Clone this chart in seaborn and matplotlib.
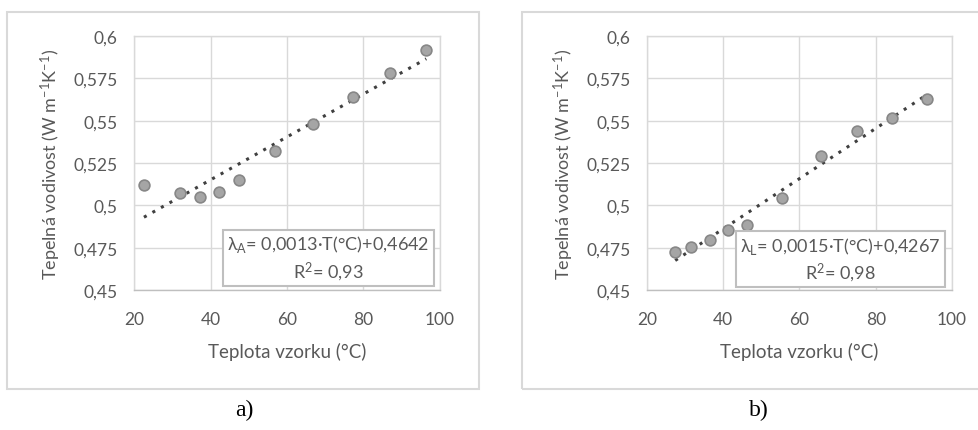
import numpy as np
import pandas as pd
import matplotlib
matplotlib.use("Agg")
import matplotlib.pyplot as plt
import seaborn as sns
from matplotlib.patches import Rectangle

# data
temp_a = [22.6, 32.1, 37.2, 42.2, 47.5, 56.9, 66.9, 77.3, 87.0, 96.4]
lam_a = [0.512, 0.507, 0.505, 0.508, 0.515, 0.532, 0.548, 0.564, 0.578, 0.592]
temp_l = [27.4, 31.6, 36.4, 41.2, 46.1, 55.5, 65.6, 75.0, 84.3, 93.5]
lam_l = [0.4727, 0.4753, 0.4798, 0.4853, 0.4883, 0.5046, 0.529, 0.5437, 0.5518, 0.563]

eq_a = "λ$_\\mathregular{A}$= 0,0013·T(°C)+0,4642\nR$\\mathregular{^2}$= 0,93"
eq_l = "λ$_\\mathregular{L}$= 0,0015·T(°C)+0,4267\nR$\\mathregular{^2}$= 0,98"
panel_labels = ["a)", "b)"]
x_ticks = [20, 40, 60, 80, 100]
y_ticks = [0.45, 0.475, 0.5, 0.525, 0.55, 0.575, 0.6]
y_tick_labels = ["0,45", "0,475", "0,5", "0,525", "0,55", "0,575", "0,6"]

sns.set_theme(style="white")
plt.rcParams['font.family'] = ['Lato', 'DejaVu Sans']
txt = '#595959'

fig = plt.figure(figsize=(9.79, 4.31), dpi=100)
W, H = 979, 431

def px_ax(l, r, t, b):
    return fig.add_axes([l / W, 1 - b / H, (r - l) / W, (b - t) / H])

ax_a = px_ax(134, 440, 37, 291)
ax_l = px_ax(647, 952, 37, 291)

# chart-area frames
for l, r in [(7, 479), (522, 986)]:
    fig.add_artist(Rectangle((l / W, 1 - 390 / H), (r - l) / W, (390 - 13) / H,
                             transform=fig.transFigure, fill=False,
                             edgecolor='#d9d9d9', lw=1.5))

panels = [
    (ax_a, temp_a, lam_a, eq_a, 0.636, 0.128),
    (ax_l, temp_l, lam_l, eq_l, 0.634, 0.122),
]

for ax, xs, ys, eq, bx, by in panels:
    df = pd.DataFrame({'T': xs, 'lam': ys})
    sns.regplot(data=df, x='T', y='lam', ax=ax, scatter=False, ci=None,
                color='#404040', line_kws=dict(linestyle=(0, (1, 2.2)), lw=2.2))
    sns.scatterplot(data=df, x='T', y='lam', ax=ax, s=60, color='#a5a5a5',
                    edgecolor='#878787', linewidth=1.2, zorder=3)
    ax.set_xlim(20, 100)
    ax.set_ylim(0.45, 0.6)
    ax.set_xticks(x_ticks)
    ax.set_yticks(y_ticks)
    ax.set_yticklabels(y_tick_labels)
    ax.grid(True, color='#d9d9d9', lw=1)
    ax.set_axisbelow(True)
    for s in ax.spines.values():
        s.set_color('#d9d9d9')
        s.set_linewidth(1)
    ax.spines['bottom'].set_color('#bfbfbf')
    ax.tick_params(axis='x', length=0, pad=15, labelsize=12.5, colors=txt)
    ax.tick_params(axis='y', length=0, pad=12, labelsize=12.5, colors=txt)
    ax.set_xlabel("Teplota vzorku (°C)", fontsize=13.5, color=txt, labelpad=11)
    ax.set_ylabel("Tepelná vodivost (W m$\\mathregular{^{-1}}$K$\\mathregular{^{-1}}$)",
                  fontsize=13, color=txt, labelpad=7)
    ax.text(bx, by, eq, transform=ax.transAxes, ha='center', va='center',
            multialignment='center', fontsize=13, color=txt, zorder=5,
            linespacing=1.25,
            bbox=dict(boxstyle='square,pad=0.22', fc='white', ec='#bfbfbf', lw=1.5))

for label, x in zip(panel_labels, [244, 759]):
    fig.text(x / W, 1 - 410 / H, label, ha='center', va='center',
             fontsize=17, family='Liberation Serif', color='black')

fig.savefig("out.png", dpi=100)
